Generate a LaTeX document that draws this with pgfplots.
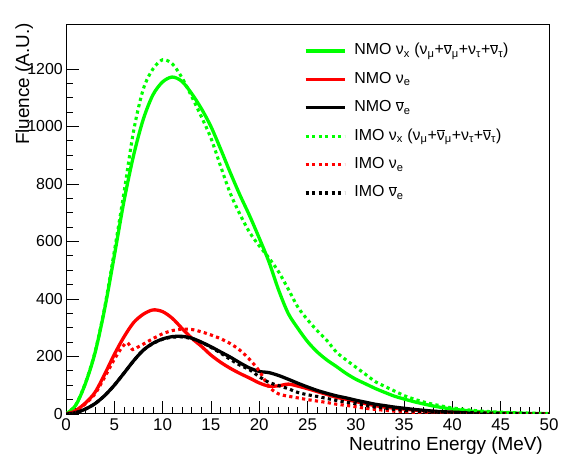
\documentclass[border=0pt]{standalone}
\usepackage{fontspec}
\setmainfont{Liberation Sans}
\usepackage{pgfplots}
\pgfplotsset{compat=1.18}
\definecolor{rgreen}{RGB}{0,255,0}
\definecolor{rred}{RGB}{255,0,0}
\newcommand{\nub}{\ensuremath{\overline{\mbox{ν}}}}
\begin{document}
\begin{tikzpicture}[x=1bp,y=1bp]
\path[use as bounding box] (0,0) rectangle (561,456);
\begin{axis}[
 at={(66bp,42bp)}, anchor=south west,
 scale only axis, width=483bp, height=389bp,
 xmin=0, xmax=50, ymin=0, ymax=1353,
 xtick={0,5,...,50}, ytick={0,200,...,1200},
 minor x tick num=4, minor y tick num=3,
 tick align=inside, xtick pos=bottom, ytick pos=left,
 major tick length=13bp, minor tick length=6.5bp,
 tick style={black, line width=0.8bp},
 axis line style={line width=1bp},
 /pgf/number format/assume math mode=true,
 /pgf/number format/1000 sep={},
 scaled y ticks=false,
 xticklabel style={font=\fontsize{17}{17}\selectfont, inner sep=0pt, anchor=north, yshift=-4.5bp},
 yticklabel style={font=\fontsize{16}{16}\selectfont, inner sep=0pt, anchor=east, xshift=-3bp},
 xlabel={Neutrino Energy (MeV)},
 xlabel style={font=\fontsize{19}{19}\selectfont, at={(axis description cs:0.9876,-0.0951)}, anchor=base east, inner sep=0pt},
 ylabel={Fluence (A.U.)},
 ylabel style={font=\fontsize{19}{19}\selectfont, at={(axis description cs:-0.0766,1.006)}, anchor=base east, inner sep=0pt},
 legend cell align=left,
 legend image code/.code={\draw[#1] (0bp,0bp) -- (39bp,0bp);},
 legend style={at={(axis description cs:0.4928,0.9512)}, anchor=north west, draw=none, fill=none,
   inner sep=0pt, outer sep=0pt, font=\fontsize{16}{16}\selectfont, row sep=14.4bp, column sep=8bp,
   nodes={inner sep=0pt, text height=11bp, text depth=3bp}},
 solidl/.style={line width=3.3bp, smooth},
 dotl/.style={line width=3.1bp, dash pattern=on 3.2bp off 3.3bp, smooth},
]
% NMO nu_x
\addplot[rgreen, solidl] coordinates {
(0,0)(1,30)(2,105)(3,212)(4,365)(5,550)(6,740)(7,900)(8,1025)(9,1110)(10,1155)(11,1172)(12,1157)(13,1115)(14,1063)(15,1000)(16,922)(17,840)(18,762)(19,690)(20,612)(21,530)(22,432)(23,350)(24,298)(25,252)(26,216)(27,188)(28,165)(29,141)(30,121)(31,105)(32,89)(33,75)(34,62)(35,52)(36,43)(37,35)(38,28)(39,22)(40,17)(42,10)(44,6)(46,3.5)(48,2)(50,1)};
\addlegendentry{NMO ν\textsubscript{x} (ν\textsubscript{μ}+\nub\textsubscript{μ}+ν\textsubscript{τ}+\nub\textsubscript{τ})}
% NMO nu_e
\addplot[rred, solidl] coordinates {
(0,0)(1,12)(2,38)(3,75)(4,138)(5,207)(6,268)(7,318)(8,347)(9,362)(10,356)(11,333)(12,298)(13,264)(14,236)(15,205)(16,180)(17,159)(18,141)(19,125)(20,108)(21,97)(22,98)(23,104)(24,97)(25,88)(26,78)(27,68)(28,58)(29,51)(30,43)(31,36)(32,29)(33,24)(34,20)(35,17)(36,14)(37,11)(38,9)(39,7)(40,5.5)(42,3.5)(44,2)(46,1.2)(48,0.8)(50,0.5)};
\addlegendentry{NMO ν\textsubscript{e}}
% NMO nubar_e
\addplot[black, solidl] coordinates {
(0,0)(1,5)(2,17)(3,36)(4,64)(5,100)(6,142)(7,185)(8,222)(9,246)(10,261)(11,269)(12,270)(13,264)(14,250)(15,234)(16,216)(17,198)(18,178)(19,160)(20,148)(21,144)(22,134)(23,121)(24,107)(25,94)(26,82)(27,72)(28,63)(29,56)(30,48)(31,41)(32,34)(33,29)(34,24)(35,20)(36,16)(37,13)(38,10)(39,8)(40,6.5)(42,4)(44,2.5)(46,1.5)(48,1)(50,0.6)};
\addlegendentry{NMO \nub\textsubscript{e}}
% IMO nu_x
\addplot[rgreen, dotl] coordinates {
(0,0)(1,31)(2,107)(3,215)(4,370)(5,565)(6,770)(7,985)(8,1130)(9,1200)(10,1232)(11,1218)(12,1170)(13,1105)(14,1035)(15,960)(16,862)(17,768)(18,695)(19,632)(20,585)(21,543)(22,495)(23,435)(24,372)(25,328)(26,290)(27,256)(28,215)(29,188)(30,163)(31,138)(32,113)(33,96)(34,80)(35,64)(36,52)(37,42)(38,34)(39,27)(40,21)(42,13)(44,8)(46,5)(48,3)(50,1.5)};
\addlegendentry{IMO ν\textsubscript{x} (ν\textsubscript{μ}+\nub\textsubscript{μ}+ν\textsubscript{τ}+\nub\textsubscript{τ})}
% IMO nu_e
\addplot[rred, dotl] coordinates {
(0,0)(1,11)(2,35)(3,70)(4,128)(5,190)(5.8,232)(6.35,248)(6.9,224)(7.4,232)(8,243)(9,262)(10,279)(11,290)(12,295)(13,294)(14,286)(15,275)(16,262)(17,245)(18,222)(19,190)(20,150)(21,95)(22,70)(23,62)(24,56)(25,50)(26,45)(27,40)(28,34)(29,30)(30,25)(31,20)(32,16)(33,13)(34,10)(35,8)(36,6)(38,4)(40,2.5)(42,1.5)(45,0.8)(50,0.3)};
\addlegendentry{IMO ν\textsubscript{e}}
% IMO nubar_e
\addplot[black, dotl] coordinates {
(0,0)(1,5)(2,17)(3,36)(4,64)(5,100)(6,142)(7,185)(8,222)(9,245)(10,260)(11,267)(12,268)(13,262)(14,250)(15,232)(16,212)(17,190)(18,170)(19,154)(20,130)(21,110)(22,99)(23,88)(24,75)(25,67)(26,61)(27,54)(28,47)(29,41)(30,36)(31,30)(32,24)(33,20)(34,16)(35,13)(36,10)(37,8)(38,6.5)(40,4)(42,2.5)(45,1.2)(50,0.4)};
\addlegendentry{IMO \nub\textsubscript{e}}
\node[anchor=base west, inner sep=0pt, font=\fontsize{13}{13}\selectfont] at (axis description cs:0,1.006) {×10\textsuperscript{6}};
\end{axis}
\end{tikzpicture}
\end{document}
